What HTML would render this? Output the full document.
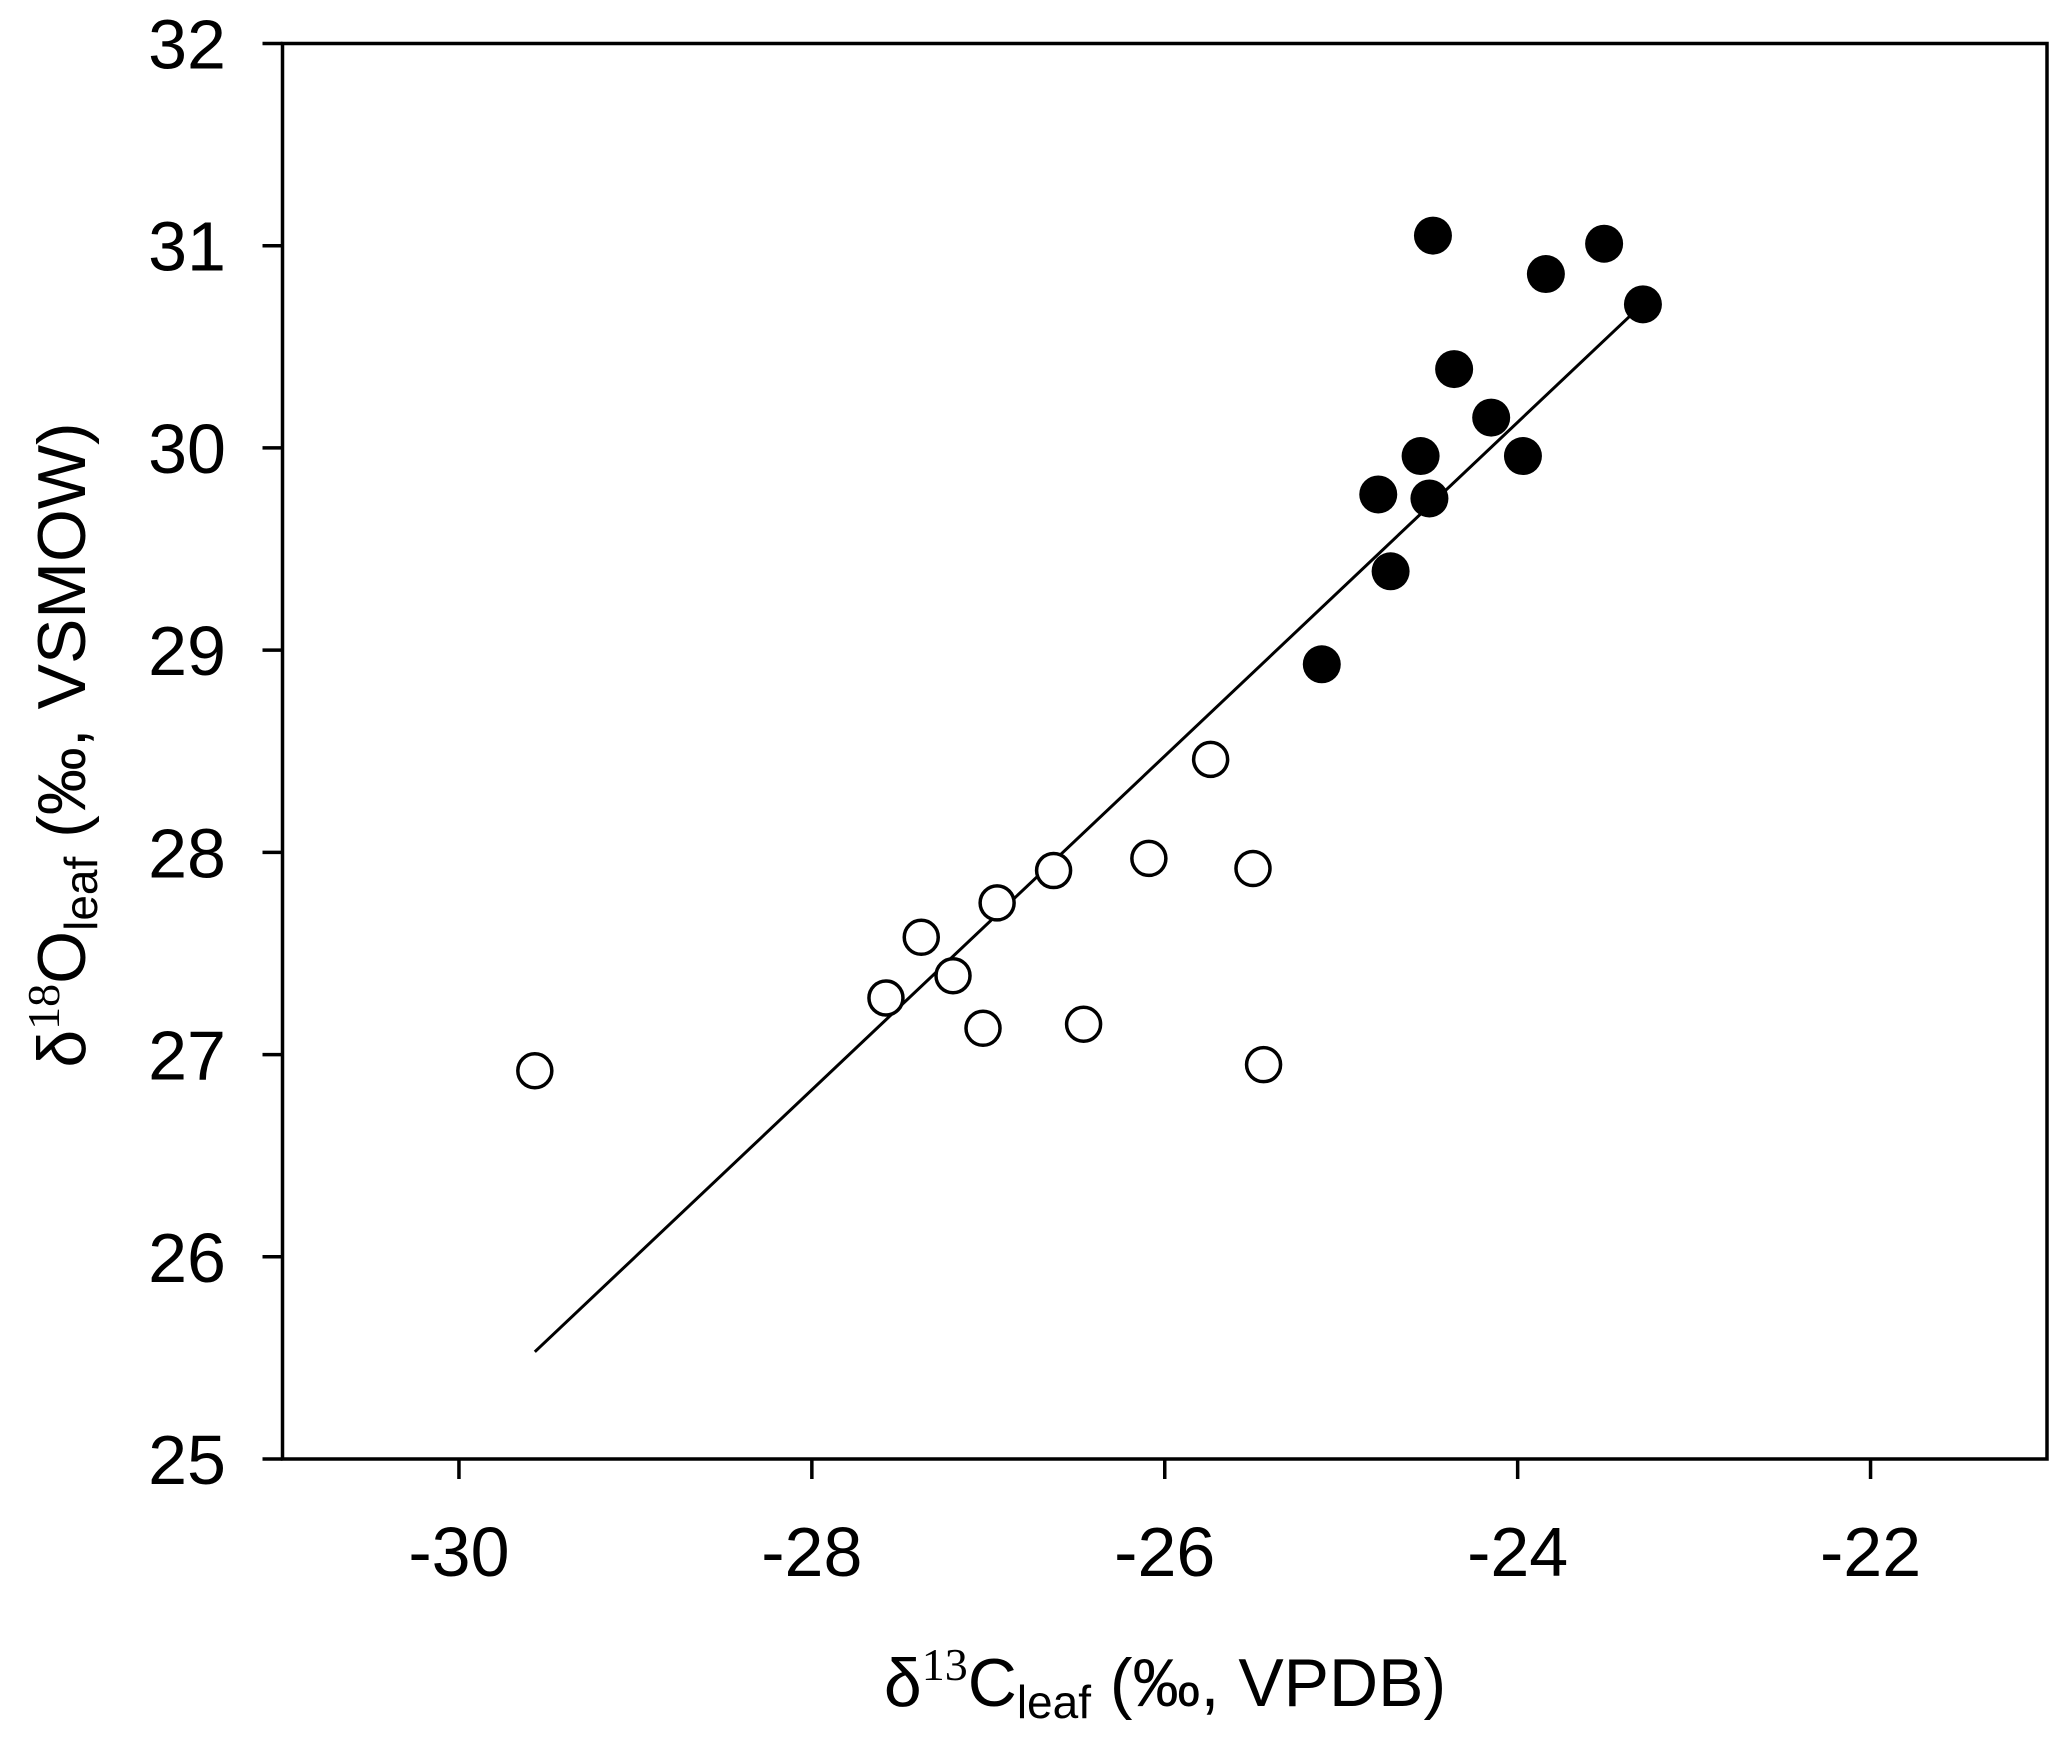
<!DOCTYPE html>
<html><head><meta charset="utf-8"><style>
html,body{margin:0;padding:0;background:#fff;}
svg{display:block;font-family:"Liberation Sans",Arial,sans-serif;}
</style></head><body>
<svg id="chart" width="2067" height="1739" viewBox="0 0 2067 1739" xmlns="http://www.w3.org/2000/svg">
<g id="axes"></g>
<g id="marks"></g>
<text transform="translate(85,745) rotate(-90)" text-anchor="middle" font-size="68">δ<tspan font-family="Liberation Serif" font-size="46" dy="-26">18</tspan><tspan dy="26">O</tspan><tspan font-size="46" dy="12">leaf</tspan><tspan dy="-12"> (‰,  VSMOW)</tspan></text>
<text x="1165" y="1706" text-anchor="middle" font-size="68">δ<tspan font-family="Liberation Serif" font-size="46" dy="-26">13</tspan><tspan dy="26">C</tspan><tspan font-size="46" dy="12">leaf</tspan><tspan dy="-12"> (‰, VPDB)</tspan></text>
</svg>
<script>
const xTicks=[-30,-28,-26,-24,-22];
const yTicks=[25,26,27,28,29,30,31,32];
const openX=[-29.57,-27.58,-27.38,-27.2,-26.95,-27.03,-26.63,-26.46,-26.09,-25.74,-25.5,-25.44];
const openY=[26.92,27.28,27.58,27.39,27.75,27.13,27.91,27.15,27.97,28.46,27.92,26.95];
const filledX=[-25.11,-24.79,-24.72,-24.55,-24.50,-24.48,-24.36,-24.15,-23.97,-23.84,-23.51,-23.29];
const filledY=[28.93,29.77,29.39,29.96,29.75,31.05,30.39,30.15,29.96,30.86,31.01,30.71];
const fitX=[-29.57,-23.33];
const fitY=[25.53,30.68];

const NS="http://www.w3.org/2000/svg";
const L=282.5,R=2047,T=43.5,B=1459;
const xMin=-31,xMax=-21,yMin=25,yMax=32;
const sx=v=>L+(v-xMin)/(xMax-xMin)*(R-L);
const sy=v=>B-(v-yMin)/(yMax-yMin)*(B-T);
function mk(tag,attrs,parent){const e=document.createElementNS(NS,tag);for(const k in attrs)e.setAttribute(k,attrs[k]);parent.appendChild(e);return e;}
const axes=document.getElementById('axes'),marks=document.getElementById('marks');
let f=mk('rect',{x:L,y:T,width:R-L,height:B-T,fill:'none',stroke:'#000','stroke-width':3.5},axes);


xTicks.forEach(v=>{
 let t=mk('line',{x1:sx(v),x2:sx(v),y1:B,y2:B+20,stroke:'#000','stroke-width':3.5},axes);
 
 
 let s=mk('text',{x:sx(v),y:1576,'text-anchor':'middle','font-size':70},axes);s.textContent=v;
 
 
});
yTicks.forEach(v=>{
 let t=mk('line',{x1:L-20,x2:L,y1:sy(v),y2:sy(v),stroke:'#000','stroke-width':3.5},axes);
 
 
 let s=mk('text',{x:226,y:sy(v)+25,'text-anchor':'end','font-size':70},axes);s.textContent=v;
 
 
});
let fl=mk('line',{x1:sx(fitX[0]),y1:sy(fitY[0]),x2:sx(fitX[1]),y2:sy(fitY[1]),stroke:'#000','stroke-width':3},marks);


openX.forEach((v,i)=>{
 let c=mk('circle',{cx:sx(v),cy:sy(openY[i]),r:17,fill:'#fff',stroke:'#000','stroke-width':3.5},marks);
 
 
});
filledX.forEach((v,i)=>{
 let c=mk('circle',{cx:sx(v),cy:sy(filledY[i]),r:19,fill:'#000'},marks);
 
 
});
</script>
</body></html>
